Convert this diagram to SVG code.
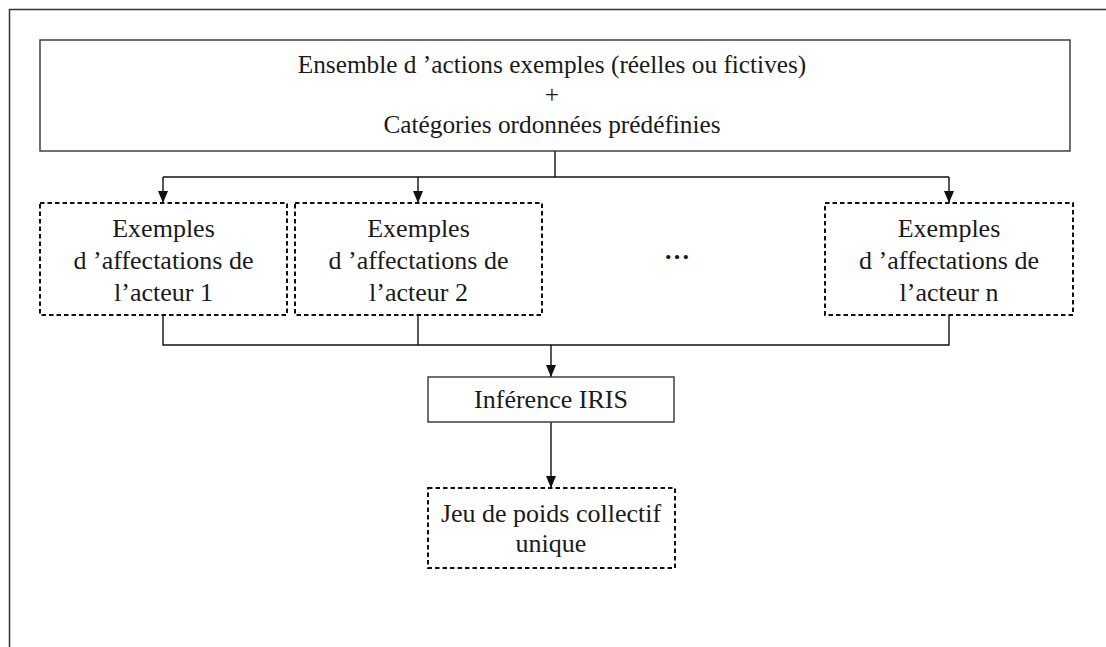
<svg xmlns="http://www.w3.org/2000/svg" width="1106" height="647" viewBox="0 0 1106 647">
<style>
text{font-family:"Liberation Serif","Times New Roman",serif;font-size:26px;fill:#1a1a1a;text-anchor:middle}
.t25{font-size:25.3px}
.solid{fill:#fff;stroke:#333;stroke-width:1.4}
.dash{fill:#fff;stroke:#111;stroke-width:2;stroke-dasharray:4.5 3}
.conn{fill:none;stroke:#111;stroke-width:1.4}
</style>
<defs>
<marker id="arr" viewBox="0 0 12 10" refX="12" refY="5" markerWidth="12" markerHeight="10" markerUnits="userSpaceOnUse" orient="auto">
<path d="M0,0 L12,5 L0,10 z" fill="#111"/>
</marker>
</defs>
<rect width="1106" height="647" fill="#fff"/>
<path d="M9.5,647 V9.5 H1106" fill="none" stroke="#333" stroke-width="1.5"/>
<g id="connectors">
<path class="conn" d="M555,151 V177"/>
<path class="conn" d="M163,177 H949"/>
<path class="conn" d="M163,177 V203" marker-end="url(#arr)"/>
<path class="conn" d="M418,177 V203" marker-end="url(#arr)"/>
<path class="conn" d="M949,177 V203" marker-end="url(#arr)"/>
<path class="conn" d="M163,315 V345 H949 V315 M418,315 V345"/>
<path class="conn" d="M551,345 V377" marker-end="url(#arr)"/>
<path class="conn" d="M551,422 V488" marker-end="url(#arr)"/>
</g>
<g id="top">
<rect class="solid" x="40" y="40" width="1030" height="111"/>
<text class="t25" x="552" y="73">Ensemble d ’actions exemples (réelles ou fictives)</text>
<text class="t25" x="552" y="103">+</text>
<text class="t25" x="552" y="133">Catégories ordonnées prédéfinies</text>
</g>
<g id="actor1">
<rect class="dash" x="40" y="203" width="247" height="112"/>
<text x="163.5" y="237">Exemples</text>
<text x="163.5" y="269">d ’affectations de</text>
<text x="163.5" y="301">l’acteur 1</text>
</g>
<g id="actor2">
<rect class="dash" x="295" y="203" width="247" height="112"/>
<text x="418.5" y="237">Exemples</text>
<text x="418.5" y="269">d ’affectations de</text>
<text x="418.5" y="301">l’acteur 2</text>
</g>
<g id="ellipsis">
<text x="677" y="259" style="font-weight:bold">…</text>
</g>
<g id="actorn">
<rect class="dash" x="825" y="203" width="248" height="112"/>
<text x="949" y="237">Exemples</text>
<text x="949" y="269">d ’affectations de</text>
<text x="949" y="301">l’acteur n</text>
</g>
<g id="iris">
<rect class="solid" x="428" y="377" width="246" height="45"/>
<text x="551" y="408">Inférence IRIS</text>
</g>
<g id="result">
<rect class="dash" x="428" y="488" width="247" height="80"/>
<text x="551" y="522">Jeu de poids collectif</text>
<text x="551" y="552">unique</text>
</g>
</svg>
